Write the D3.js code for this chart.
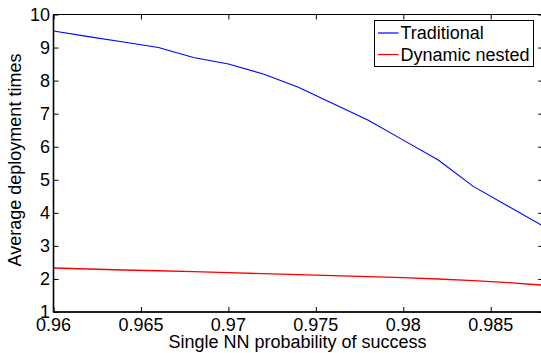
<!DOCTYPE html>
<html lang="en">

<head>
    <meta charset="UTF-8">
    <title>Average deployment times</title>
    <style>
        body { margin: 0; overflow: hidden; background: #fff; }
        svg { display: block; }
    </style>
</head>

<body>
    <script src="https://cdn.jsdelivr.net/npm/d3@7"></script>
    <script>
        const probs = [0.960, 0.962, 0.964, 0.966, 0.968, 0.970, 0.972, 0.974,
            0.976, 0.978, 0.980, 0.982, 0.984, 0.986, 0.988];
        const traditional = [9.5, 9.33, 9.17, 9.0, 8.7, 8.5, 8.2, 7.8, 7.3, 6.8, 6.2, 5.6, 4.8, 4.2, 3.6];
        const dynamicNested = [2.33, 2.30, 2.27, 2.25, 2.22, 2.19, 2.16, 2.13, 2.10, 2.07, 2.04, 2.00, 1.95, 1.89, 1.81];
        const xTicks = [0.96, 0.965, 0.97, 0.975, 0.98, 0.985];
        const yTicks = [1, 2, 3, 4, 5, 6, 7, 8, 9, 10];
        const seriesNames = ['Traditional', 'Dynamic nested'];
        const seriesColors = ['#0000ff', '#ff0000'];

        const w = 545;
        const h = 353;
        const box = { left: 53.5, right: 543.2, top: 14.5, bottom: 312 }; // plot box
        const font = '"Liberation Sans", Arial, Helvetica, sans-serif';
        const tickLen = 5;

        const svg = d3.select('body')
            .append('svg')
            .attr('width', w)
            .attr('height', h)

        const xScale = d3.scaleLinear()
            .domain([0.96, 0.988])
            .range([box.left, box.right]);

        const yScale = d3.scaleLinear()
            .domain([1, 10])
            .range([box.bottom, box.top]);

        // lines first, box on top
        const line = d3.line()
            .x((d, i) => xScale(probs[i]))
            .y((d) => yScale(d));

        [traditional, dynamicNested].forEach((vals, k) => {
            svg.append('path')
                .datum(vals)
                .attr('d', line)
                .attr('fill', 'none')
                .attr('stroke', seriesColors[k])
                .attr('stroke-width', k === 0 ? 1.1 : 1.4);
        });

        // axes: ticks pointing inward, labels added by hand
        const xBottom = svg.append('g')
            .attr('transform', `translate(0,${box.bottom})`)
            .call(d3.axisTop(xScale).tickValues(xTicks).tickSize(tickLen).tickFormat(''));
        const xTop = svg.append('g')
            .attr('transform', `translate(0,${box.top})`)
            .call(d3.axisBottom(xScale).tickValues(xTicks).tickSize(tickLen).tickFormat(''));
        const yLeft = svg.append('g')
            .attr('transform', `translate(${box.left},0)`)
            .call(d3.axisRight(yScale).tickValues(yTicks).tickSize(tickLen).tickFormat(''));
        const yRight = svg.append('g')
            .attr('transform', `translate(${box.right},0)`)
            .call(d3.axisLeft(yScale).tickValues(yTicks).tickSize(tickLen).tickFormat(''));

        [xBottom, xTop, yLeft, yRight].forEach((g) => {
            g.select('.domain').remove();
            g.selectAll('line').attr('stroke', '#000').attr('stroke-width', 1);
        });

        // box
        svg.append('rect')
            .attr('x', box.left)
            .attr('y', box.top)
            .attr('width', box.right - box.left)
            .attr('height', box.bottom - box.top)
            .attr('fill', 'none')
            .attr('stroke', '#000')
            .attr('stroke-width', 1);
        svg.append('line') // heavier left and bottom edges
            .attr('x1', box.left).attr('y1', box.top).attr('x2', box.left).attr('y2', box.bottom)
            .attr('stroke', '#000').attr('stroke-width', 1.6);
        svg.append('line')
            .attr('x1', box.left).attr('y1', box.bottom).attr('x2', box.right).attr('y2', box.bottom)
            .attr('stroke', '#000').attr('stroke-width', 1.6);

        svg.selectAll('.xlab')
            .data(xTicks)
            .enter()
            .append('text')
            .attr('x', (d) => xScale(d))
            .attr('y', 331)
            .attr('text-anchor', 'middle')
            .attr('font-family', font)
            .attr('font-size', '18px')
            .text((d) => d3.format('')(d));

        svg.selectAll('.ylab')
            .data(yTicks)
            .enter()
            .append('text')
            .attr('x', 50)
            .attr('y', (d) => yScale(d))
            .attr('dy', '0.36em')
            .attr('text-anchor', 'end')
            .attr('font-family', font)
            .attr('font-size', '18px')
            .text((d) => d);

        svg.append('text')
            .attr('x', 297.5)
            .attr('y', 348)
            .attr('text-anchor', 'middle')
            .attr('font-family', font)
            .attr('font-size', '18px')
            .text('Single NN probability of success');

        svg.append('text')
            .attr('transform', 'translate(21,160) rotate(-90)')
            .attr('text-anchor', 'middle')
            .attr('font-family', font)
            .attr('font-size', '18px')
            .text('Average deployment times');

        // legend
        const legend = svg.append('g');
        legend.append('rect')
            .attr('x', 374.5)
            .attr('y', 20.5)
            .attr('width', 159)
            .attr('height', 46)
            .attr('fill', '#fff')
            .attr('stroke', '#000')
            .attr('stroke-width', 1);
        seriesNames.forEach((name, i) => {
            const cy = 33 + i * 21.5;
            legend.append('line')
                .attr('x1', 378).attr('x2', 398.5)
                .attr('y1', cy).attr('y2', cy)
                .attr('stroke', seriesColors[i])
                .attr('stroke-width', 1.2);
            legend.append('text')
                .attr('x', 400.5)
                .attr('y', cy)
                .attr('dy', '0.36em')
                .attr('font-family', font)
                .attr('font-size', '18px')
                .text(name);
        });
    </script>
</body>

</html>
